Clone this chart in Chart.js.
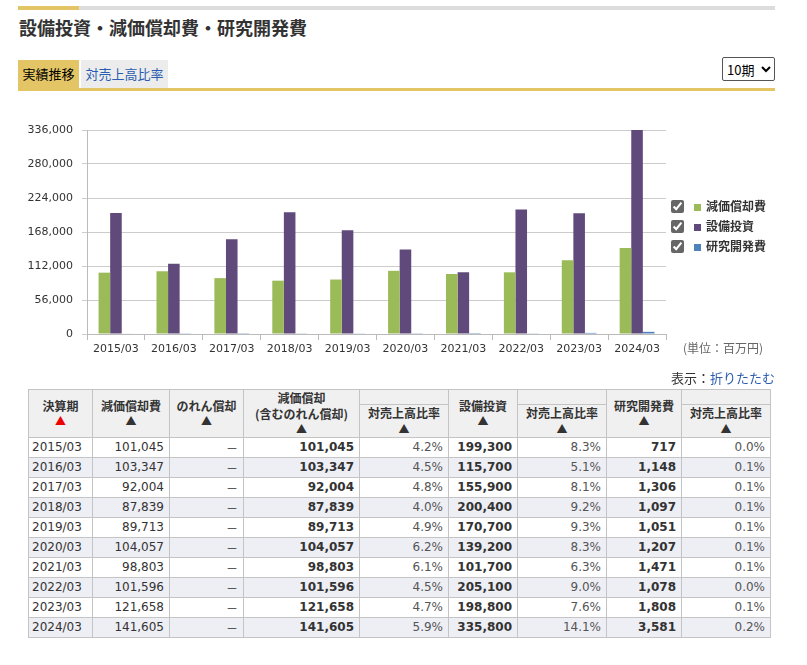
<!DOCTYPE html>
<html lang="ja">
<head>
<meta charset="utf-8">
<script src="https://cdn.jsdelivr.net/npm/chart.js@4.4.1/dist/chart.umd.min.js"></script>
<style>
  body { margin: 0; width: 807px; height: 665px; background: #fff; position: relative; font-family: "Noto Sans CJK JP", "DejaVu Sans", sans-serif; color: #333; overflow: hidden; }
  .abs { position: absolute; }
  #topbar { left: 18px; top: 6px; width: 757px; height: 4px; background: #ddd; }
  #topbar span { position: absolute; left: 0; top: 0; width: 61px; height: 4px; background: #e3c565; }
  #title { left: 19px; top: 13px; font-size: 18px; font-weight: bold; line-height: 28px; color: #333; }
  .tab { top: 60px; height: 28px; line-height: 28px; font-size: 13px; text-align: center; }
  #tab1 { left: 18px; width: 61px; background: #e3c565; color: #000; }
  #tab2 { left: 81px; width: 87px; background: #ececec; color: #2a5db0; }
  #tabline { left: 18px; top: 88px; width: 757px; height: 3px; background: #e3c565; }
  #period { left: 722px; top: 57px; width: 53px; height: 24px; font-size: 13px; border: 1px solid #555; border-radius: 2px; background: #fff; color: #000; font-family: "Noto Sans CJK JP", sans-serif; }
  #chartbox { left: 18px; top: 112px; width: 654px; height: 252px; }
  #legend { left: 671px; top: 196px; font-size: 12px; font-weight: bold; color: #333; }
  #legend div { height: 20px; line-height: 20px; display: flex; align-items: center; }
  #legend input { margin: 0 10px 0 0; width: 13px; height: 13px; accent-color: #666; }
  #legend i { display: inline-block; width: 7px; height: 7px; margin-right: 5px; margin-top: 3px; }
  #unit { left: 683px; top: 339px; font-size: 12px; color: #666; }
  #toggle { right: 32px; top: 368px; font-size: 13px; color: #333; }
  #toggle a { color: #2a5db0; text-decoration: none; }
  table { position: absolute; left: 28px; top: 389px; border-collapse: collapse; table-layout: fixed; width: 742px; font-size: 12px; }
  th { background: #f0f0f0; border: 1px solid #c4c4c4; font-weight: bold; font-size: 12px; line-height: 15.5px; padding: 0; vertical-align: middle; color: #333; }
  th .up { display: block; font-size: 11px; }
  th .red { color: #e00; }
  td { border: 1px solid #c4c4c4; height: 19px; padding: 0 5px 0 3px; text-align: right; font-family: "DejaVu Sans", sans-serif; color: #333; white-space: nowrap; }
  td.l { text-align: left; }
  td.b { font-weight: bold; }
  td.p { color: #555; }
  td.d { font-family: "Noto Sans CJK JP", sans-serif; }
  tbody tr:nth-child(even) td { background: #eeeef5; }
  th.blank { border-left: none; height: 14px; }
</style>
</head>
<body>
<div id="topbar" class="abs"><span></span></div>
<div id="title" class="abs">設備投資・減価償却費・研究開発費</div>
<div id="tab1" class="abs tab">実績推移</div>
<div id="tab2" class="abs tab">対売上高比率</div>
<div id="tabline" class="abs"></div>
<select id="period" class="abs"><option>10期</option></select>

<div id="chartbox" class="abs"><canvas id="chart"></canvas></div>
<div id="legend" class="abs"></div>
<div id="unit" class="abs">(単位：百万円)</div>
<div id="toggle" class="abs">表示：<a href="#">折りたたむ</a></div>

<table id="tbl">
  <colgroup>
    <col style="width:64px"><col style="width:77px"><col style="width:74px"><col style="width:116px"><col style="width:89px">
    <col style="width:69px"><col style="width:89px"><col style="width:75px"><col style="width:89px">
  </colgroup>
  <thead>
    <tr>
      <th rowspan="2">決算期<span class="up red">▲</span></th>
      <th rowspan="2">減価償却費<span class="up">▲</span></th>
      <th rowspan="2">のれん償却<span class="up">▲</span></th>
      <th rowspan="2">減価償却<br>(含むのれん償却)<span class="up">▲</span></th>
      <th class="blank"></th>
      <th rowspan="2">設備投資<span class="up">▲</span></th>
      <th class="blank"></th>
      <th rowspan="2">研究開発費<span class="up">▲</span></th>
      <th class="blank"></th>
    </tr>
    <tr>
      <th>対売上高比率<span class="up">▲</span></th>
      <th>対売上高比率<span class="up">▲</span></th>
      <th>対売上高比率<span class="up">▲</span></th>
    </tr>
  </thead>
  <tbody id="rows"></tbody>
</table>

<script>
// periods shown on the x axis and in the table
const categories = ['2015/03', '2016/03', '2017/03', '2018/03', '2019/03', '2020/03', '2021/03', '2022/03', '2023/03', '2024/03'];

// series (百万円)
const depreciation = [101045, 103347, 92004, 87839, 89713, 104057, 98803, 101596, 121658, 141605];
const capex = [199300, 115700, 155900, 200400, 170700, 139200, 101700, 205100, 198800, 335800];
const rnd = [717, 1148, 1306, 1097, 1051, 1207, 1471, 1078, 1808, 3581];

// ratios to sales (%)
const depreciationRatio = ['4.2%', '4.5%', '4.8%', '4.0%', '4.9%', '6.2%', '6.1%', '4.5%', '4.7%', '5.9%'];
const capexRatio = ['8.3%', '5.1%', '8.1%', '9.2%', '9.3%', '8.3%', '6.3%', '9.0%', '7.6%', '14.1%'];
const rndRatio = ['0.0%', '0.1%', '0.1%', '0.1%', '0.1%', '0.1%', '0.1%', '0.0%', '0.1%', '0.2%'];

// y axis ticks
const yTicks = [0, 56000, 112000, 168000, 224000, 280000, 336000];

const seriesNames = ['減価償却費', '設備投資', '研究開発費'];
const seriesColors = ['#9bbb59', '#604a7b', '#4f81bd'];

const fmt = v => v.toLocaleString('en-US');

// Build the table rows
const tbody = document.getElementById('rows');
categories.forEach((c, i) => {
    const tr = document.createElement('tr');
    tr.innerHTML =
        `<td class="l">${c}</td>` +
        `<td>${fmt(depreciation[i])}</td>` +
        `<td class="d">－</td>` +
        `<td class="b">${fmt(depreciation[i])}</td>` +
        `<td class="p">${depreciationRatio[i]}</td>` +
        `<td class="b">${fmt(capex[i])}</td>` +
        `<td class="p">${capexRatio[i]}</td>` +
        `<td class="b">${fmt(rnd[i])}</td>` +
        `<td class="p">${rndRatio[i]}</td>`;
    tbody.appendChild(tr);
});

// Legend with checkboxes
const legend = document.getElementById('legend');
seriesNames.forEach((name, i) => {
    const row = document.createElement('div');
    row.innerHTML = `<input type="checkbox" checked><i style="background:${seriesColors[i]}"></i>${name}`;
    legend.appendChild(row);
});

const tickFont = { family: '"DejaVu Sans", sans-serif', size: 11 };

new Chart(document.getElementById('chart'), {
    type: 'bar',
    data: {
        labels: categories,
        datasets: [
            { label: seriesNames[0], data: depreciation, backgroundColor: seriesColors[0] },
            { label: seriesNames[1], data: capex, backgroundColor: seriesColors[1] },
            { label: seriesNames[2], data: rnd, backgroundColor: seriesColors[2] }
        ]
    },
    options: {
        responsive: true,
        maintainAspectRatio: false,
        animation: false,
        layout: { padding: { top: 18, right: 6 } },
        datasets: { bar: { categoryPercentage: 0.6, barPercentage: 1.0 } },
        plugins: {
            legend: { display: false },
            tooltip: { enabled: false }
        },
        scales: {
            x: {
                grid: { drawOnChartArea: false, drawTicks: true, tickLength: 6, color: '#bbb' },
                border: { color: '#bbb' },
                ticks: { color: '#333', font: tickFont, padding: 3, maxRotation: 0 },
                afterFit: scale => { scale.height = 30; }
            },
            y: {
                min: yTicks[0],
                max: yTicks[yTicks.length - 1],
                grid: { color: '#ccc', tickLength: 5 },
                border: { color: '#bbb' },
                afterBuildTicks: scale => { scale.ticks = yTicks.map(v => ({ value: v })); },
                ticks: { color: '#333', font: tickFont, padding: 9, callback: v => fmt(v) },
                afterFit: scale => { scale.width = 69; }
            }
        }
    }
});
</script>
</body>
</html>
